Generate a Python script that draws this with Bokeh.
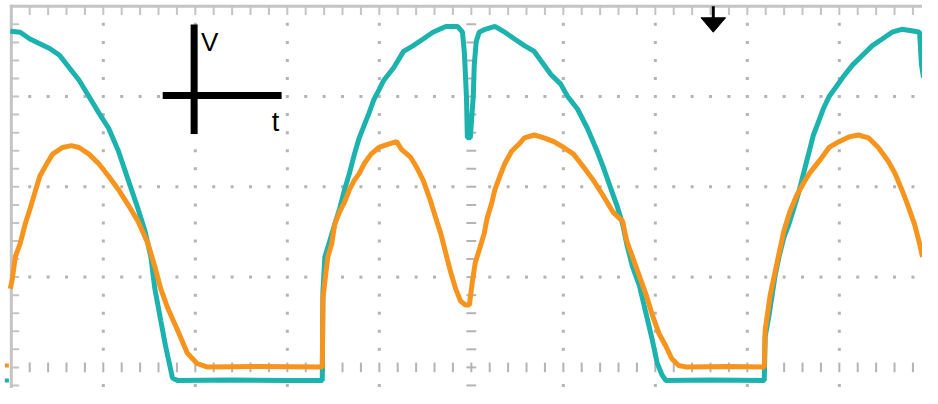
import numpy as np
from bokeh.plotting import figure
from bokeh.models import Range1d
from bokeh.core.properties import value
from bokeh.embed import file_html
from bokeh.resources import INLINE

# ---- data (time and voltage in screen divisions; centre of screen = (5, 0)) ----
ch1_t = [-0.011, 0.096, 0.203, 0.310, 0.417, 0.524, 0.630, 0.737, 0.844, 0.951,
         1.058, 1.165, 1.271, 1.378, 1.453, 1.517, 1.560, 1.624, 1.677, 1.752,
         1.806, 2.400, 3.000, 3.380,
         3.387, 3.408, 3.462, 3.515, 3.568, 3.622, 3.675, 3.729, 3.782, 3.835,
         3.889, 3.942, 3.996, 4.049, 4.156, 4.263, 4.370, 4.476, 4.583, 4.722,
         4.850, 4.904, 4.925, 4.947, 4.957, 4.989, 5.021, 5.032, 5.053, 5.085,
         5.150, 5.256, 5.363, 5.470, 5.577, 5.684, 5.759, 5.865, 5.972, 6.047,
         6.154, 6.261, 6.368, 6.432, 6.506, 6.581, 6.645, 6.688, 6.752, 6.827,
         6.902, 6.966, 7.019, 7.073, 7.115, 7.600, 8.184,
         8.194, 8.237, 8.269, 8.301, 8.344, 8.397, 8.451, 8.504, 8.558, 8.611,
         8.665, 8.718, 8.771, 8.825, 8.889, 8.964, 9.038, 9.145, 9.252, 9.359,
         9.466, 9.573, 9.679, 9.818, 9.872, 9.893, 9.915]
ch1_v = [3.723, 3.713, 3.638, 3.585, 3.532, 3.457, 3.319, 3.181, 3.000, 2.819,
         2.649, 2.394, 2.074, 1.755, 1.511, 1.223, 0.872, 0.521, 0.234, -0.117,
         -0.145, -0.140, -0.145, -0.145,
         0.840, 1.223, 1.404, 1.585, 1.755, 1.968, 2.149, 2.362, 2.543, 2.681,
         2.819, 2.968, 3.074, 3.181, 3.319, 3.500, 3.564, 3.638, 3.713, 3.777,
         3.777, 3.713, 3.479, 3.000, 2.543, 2.543, 3.000, 3.351, 3.606, 3.713,
         3.745, 3.777, 3.713, 3.638, 3.564, 3.500, 3.394, 3.245, 3.138, 3.000,
         2.862, 2.649, 2.394, 2.223, 2.011, 1.798, 1.585, 1.372, 1.117, 0.904,
         0.585, 0.309, 0.053, -0.085, -0.145, -0.140, -0.145,
         0.340, 0.585, 0.798, 1.011, 1.223, 1.436, 1.585, 1.755, 1.936, 2.149,
         2.362, 2.574, 2.713, 2.862, 3.000, 3.106, 3.213, 3.351, 3.457, 3.564,
         3.638, 3.713, 3.745, 3.723, 3.713, 3.351, 3.210]

ch2_t = [-0.011, 0.011, 0.043, 0.096, 0.150, 0.203, 0.256, 0.310, 0.385, 0.449,
         0.556, 0.652, 0.737, 0.844, 0.951, 1.058, 1.165, 1.271, 1.378, 1.485,
         1.560, 1.624, 1.699, 1.806, 1.912, 2.019, 2.126, 2.700, 3.380,
         3.387, 3.408, 3.440, 3.483, 3.515, 3.568, 3.622, 3.675, 3.729, 3.782,
         3.835, 3.910, 3.996, 4.081, 4.188, 4.241, 4.338, 4.402, 4.476, 4.551,
         4.615, 4.669, 4.722, 4.776, 4.829, 4.883, 4.936, 4.979, 5.011, 5.043,
         5.085, 5.139, 5.171, 5.224, 5.256, 5.310, 5.363, 5.438, 5.513, 5.577,
         5.684, 5.791, 5.897, 6.004, 6.111, 6.218, 6.325, 6.432, 6.538, 6.645,
         6.688, 6.752, 6.827, 6.902, 6.966, 7.041, 7.115, 7.179, 7.254, 7.329,
         7.800, 8.184,
         8.194, 8.248, 8.301, 8.323, 8.397, 8.462, 8.536, 8.611, 8.675, 8.782,
         8.889, 8.996, 9.103, 9.209, 9.316, 9.423, 9.530, 9.605, 9.679, 9.744,
         9.818, 9.872, 9.904]
ch2_v = [0.872, 0.979, 1.223, 1.372, 1.585, 1.755, 1.936, 2.117, 2.255, 2.362,
         2.436, 2.457, 2.436, 2.362, 2.255, 2.117, 1.968, 1.798, 1.617, 1.372,
         1.117, 0.872, 0.660, 0.415, 0.160, 0.043, 0.005, 0.010, 0.005,
         0.766, 0.947, 1.223, 1.372, 1.585, 1.723, 1.830, 1.968, 2.074, 2.149,
         2.255, 2.362, 2.436, 2.468, 2.500, 2.415, 2.330, 2.223, 2.074, 1.862,
         1.649, 1.479, 1.266, 1.053, 0.872, 0.734, 0.691, 0.691, 0.947, 1.160,
         1.298, 1.479, 1.649, 1.830, 1.968, 2.117, 2.255, 2.394, 2.468, 2.543,
         2.574, 2.543, 2.500, 2.436, 2.362, 2.223, 2.074, 1.904, 1.723, 1.617,
         1.404, 1.223, 1.011, 0.798, 0.585, 0.372, 0.234, 0.096, 0.021, 0.005,
         0.010, 0.005,
         0.415, 0.798, 1.053, 1.160, 1.511, 1.723, 1.904, 2.043, 2.149, 2.287,
         2.436, 2.500, 2.553, 2.574, 2.543, 2.436, 2.287, 2.149, 1.968, 1.798,
         1.585, 1.372, 1.223]

trigger_t = 7.63
ch1_level = -0.145
ch2_level = 0.02

TEAL = "#1CB2AE"
ORANGE = "#F7941D"
GRID = "#b4b4b4"
BORDER = "#c4c4c4"

# ---- screen geometry ----
X0, X1 = -0.1175, 9.904
Y0, Y1 = -0.234, 4.064
W, H = 922, 388
ux = 1 / 93.6   # one screen pixel (reference scale) in divisions, horizontal
uy = 1 / 94.0   # vertical

p = figure(width=W, height=H, x_range=Range1d(X0, X1), y_range=Range1d(Y0, Y1),
           output_backend="svg", toolbar_location=None,
           x_axis_type=None, y_axis_type=None, min_border=0,
           outline_line_color=None, background_fill_color="white",
           border_fill_color="white")

minor = 0.2
# dotted graticule
gx, gy = [], []
for xv in [1, 2, 3, 4, 6, 7, 8, 9]:
    for k in range(-1, 20):
        if k == 0:
            continue
        gx.append(xv); gy.append(k * minor)
for yv in [1, 2, 3]:
    for k in range(1, 50):
        xv = k * minor
        if abs(xv - round(xv)) < 1e-6:
            continue
        gx.append(xv); gy.append(yv)
p.scatter(gx, gy, marker="square", size=3, fill_color=GRID, line_color=None)

# centre axes with minor ticks
cx = [k * minor for k in range(1, 50)]
p.segment(x0=cx, y0=[-5 * uy] * len(cx), x1=cx, y1=[5 * uy] * len(cx),
          line_color=GRID, line_width=2)
cy = [k * minor for k in range(-1, 20)]
p.segment(x0=[5 - 5 * ux] * len(cy), y0=cy, x1=[5 + 5 * ux] * len(cy), y1=cy,
          line_color=GRID, line_width=2)

# borders with ticks
p.segment(x0=[-1.5 * ux], y0=[4], x1=[X1], y1=[4], line_color=BORDER, line_width=3)
p.segment(x0=[0], y0=[4 + 1.5 * uy], x1=[0], y1=[Y0], line_color=BORDER, line_width=3)
p.segment(x0=cx, y0=[4] * len(cx), x1=cx, y1=[4 - 9 * uy] * len(cx),
          line_color=BORDER, line_width=2)
ly = [k * minor for k in range(-1, 20)]
p.segment(x0=[0] * len(ly), y0=ly, x1=[8 * ux] * len(ly), y1=ly,
          line_color=BORDER, line_width=2)

# traces
p.line(ch1_t, ch1_v, line_color=TEAL, line_width=5)
p.line(ch2_t, ch2_v, line_color=ORANGE, line_width=5)

# channel level markers
p.scatter([-4.5 * ux], [ch1_level], marker="square", size=4, fill_color=TEAL, line_color=None)
p.scatter([-4.5 * ux], [ch2_level], marker="square", size=4, fill_color=ORANGE, line_color=None)

# trigger position marker
p.segment(x0=[trigger_t], y0=[4], x1=[trigger_t], y1=[4 - 16 * uy], line_color="black", line_width=3)
p.patch([trigger_t - 12.5 * ux, trigger_t + 12.5 * ux, trigger_t],
        [4 - 12 * uy, 4 - 12 * uy, 4 - 27 * uy], fill_color="black", line_color="black")

# V / t symbol
p.segment(x0=[(197 - 11) * ux, (165 - 11) * ux], y0=[4 - 19 * uy, 4 - 93 * uy],
          x1=[(197 - 11) * ux, (286 - 11) * ux], y1=[4 - 133 * uy, 4 - 93 * uy],
          line_color="black", line_width=7, line_cap="butt")
p.text(x=[(204 - 11) * ux], y=[4 - 37 * uy], text=["V"], text_font=value("Liberation Sans"),
       text_font_size="26px", text_color="black", text_baseline="alphabetic", text_align="left")
p.text(x=[(276 - 11) * ux], y=[4 - 121 * uy], text=["t"], text_font=value("Liberation Sans"),
       text_font_size="27px", text_color="black", text_baseline="alphabetic", text_align="left")

open("out.html", "w").write(file_html(p, INLINE))
